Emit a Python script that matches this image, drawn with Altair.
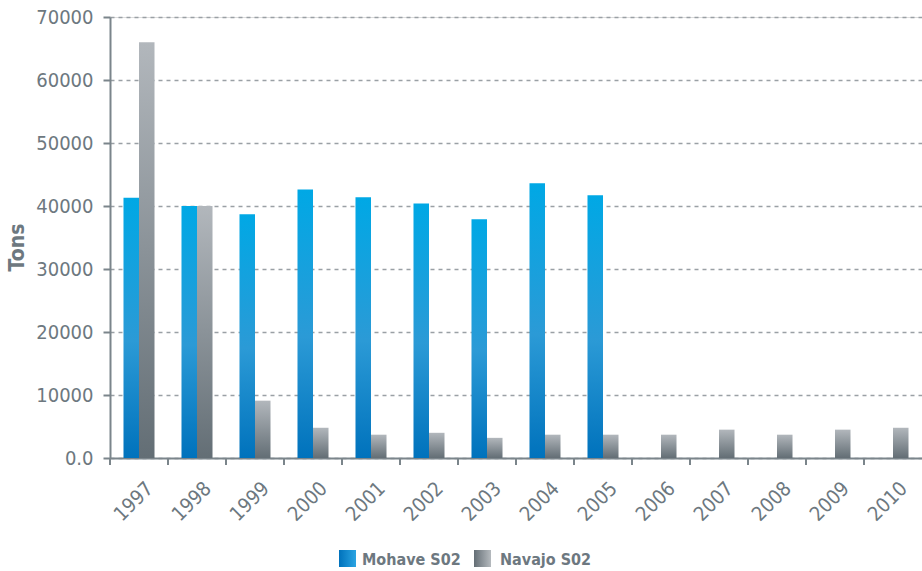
import altair as alt
import pandas as pd

years = [str(y) for y in range(1997, 2011)]
series_names = ["Mohave S02", "Navajo S02"]
mohave = [41300, 40000, 38700, 42600, 41400, 40400, 37900, 43600, 41700, None, None, None, None, None]
navajo = [66000, 40000, 9100, 4800, 3700, 4000, 3200, 3700, 3700, 3700, 4500, 3700, 4500, 4800]

rows = []
for i, y in enumerate(years):
    if mohave[i] is not None:
        rows.append({"year": y, "series": series_names[0], "tons": mohave[i]})
    rows.append({"year": y, "series": series_names[1], "tons": navajo[i]})
df = pd.DataFrame(rows)
df_years = pd.DataFrame({"year": years})

FONT = "DejaVu Sans Condensed, DejaVu Sans, sans-serif"
TXT = "#6d7880"
AX = "#7b858b"

W, H = 812, 441

blue_grad = alt.Gradient(gradient="linear", x1=0, y1=0, x2=0, y2=1, stops=[
    alt.GradientStop(offset=0, color="#00a8e5"),
    alt.GradientStop(offset=0.55, color="#2b9ad6"),
    alt.GradientStop(offset=1, color="#0072bc")])
gray_grad = alt.Gradient(gradient="linear", x1=0, y1=0, x2=0, y2=1, stops=[
    alt.GradientStop(offset=0, color="#b2b7bc"),
    alt.GradientStop(offset=1, color="#636e75")])
blue_h = alt.Gradient(gradient="linear", x1=0, y1=0, x2=1, y2=0, stops=[
    alt.GradientStop(offset=0, color="#0072bc"),
    alt.GradientStop(offset=1, color="#2ba4e2")])
gray_h = alt.Gradient(gradient="linear", x1=0, y1=0, x2=1, y2=0, stops=[
    alt.GradientStop(offset=0, color="#646e75"),
    alt.GradientStop(offset=1, color="#b5babe")])

xscale = alt.Scale(domain=years, paddingInner=0, paddingOuter=0)

bars = alt.Chart(df).mark_bar().encode(
    x=alt.X("year:O", scale=xscale, title=None,
            axis=alt.Axis(labelAngle=-45, labelFont=FONT, labelFontSize=20, labelColor=TXT,
                          ticks=False, domainColor=AX, domainWidth=2, labelPadding=20,
                          labelOffset=4, grid=False)),
    xOffset=alt.XOffset("series:N", scale=alt.Scale(domain=series_names, paddingInner=0, paddingOuter=0.87)),
    y=alt.Y("tons:Q", scale=alt.Scale(domain=[0, 70000], nice=False),
            axis=alt.Axis(values=list(range(0, 70001, 10000)),
                          labelExpr="datum.value === 0 ? '0.0' : format(datum.value, 'd')",
                          labelFont=FONT, labelFontSize=20, labelColor=TXT, labelPadding=10,
                          tickSize=7, tickColor=AX, tickWidth=2, domainColor=AX, domainWidth=2,
                          grid=True, gridDash=[4, 4], gridColor="#9aa0a5", gridWidth=1.5,
                          title="Tons", titleFont=FONT, titleFontSize=21, titleFontWeight="bold",
                          titleColor=TXT, titleX=-93, titleY=230, titleAngle=-90,
                          titleAlign="center", titleBaseline="middle")),
    fill=alt.condition(f"datum.series == '{series_names[0]}'", alt.value(blue_grad), alt.value(gray_grad)),
)

ticks = alt.Chart(df_years).mark_rule(color=AX, strokeWidth=2).encode(
    x=alt.X("year:O", scale=xscale, bandPosition=0),
    y=alt.value(H),
    y2=alt.value(H + 7),
)

legend_layers = []
leg_pos = [(229, 252), (364, 390)]
leg_fill = [blue_h, gray_h]
for name, (sx, tx), f in zip(series_names, leg_pos, leg_fill):
    legend_layers.append(alt.Chart(pd.DataFrame({"series": [name]})).mark_rect(fill=f).encode(
        x=alt.value(sx), x2=alt.value(sx + 17), y=alt.value(533), y2=alt.value(550)))
    legend_layers.append(alt.Chart(pd.DataFrame({"series": [name]})).mark_text(
        font=FONT, fontSize=16, fontWeight="bold", color=TXT, align="left", baseline="alphabetic").encode(
        text="series:N", x=alt.value(tx), y=alt.value(548)))

chart = alt.layer(bars, ticks, *legend_layers).properties(
    width=W, height=H,
    autosize=alt.AutoSizeParams(type="none"),
    padding={"left": 110, "top": 17, "right": 0, "bottom": 571 - 17 - H},
).configure_view(stroke=None).configure(background="white")

chart.save("out.html", embed_options={"renderer": "svg", "actions": False})
